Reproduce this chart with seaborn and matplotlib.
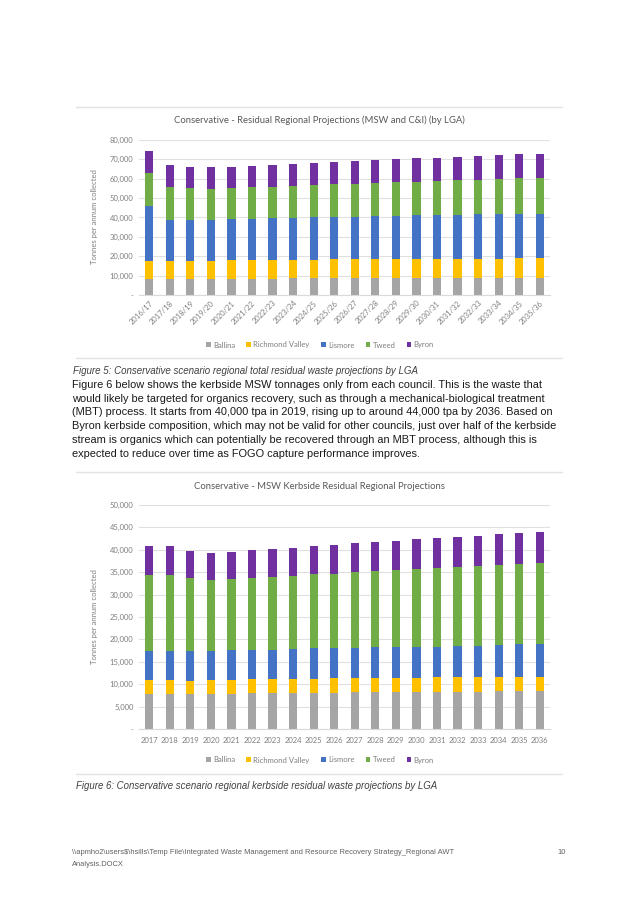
import matplotlib
matplotlib.use("Agg")
import matplotlib.pyplot as plt
from matplotlib.lines import Line2D
from matplotlib.patches import Patch
from matplotlib.ticker import FuncFormatter, MultipleLocator
import numpy as np
import pandas as pd
import seaborn as sns

# ---------------- data ----------------
lgas = ["Ballina", "Richmond Valley", "Lismore", "Tweed", "Byron"]
colors = ["#A5A5A5", "#FFC000", "#4472C4", "#70AD47", "#7030A0"]

fin_years = ["2016/17", "2017/18", "2018/19", "2019/20", "2020/21", "2021/22", "2022/23",
             "2023/24", "2024/25", "2025/26", "2026/27", "2027/28", "2028/29", "2029/30",
             "2030/31", "2031/32", "2032/33", "2033/34", "2034/35", "2035/36"]
total_ballina = [8300, 8300, 8300, 8300, 8400, 8500, 8500, 8600, 8700, 8700,
                 8800, 8800, 8800, 8900, 8900, 8900, 9000, 9000, 9000, 9000]
total_richmond = [9400, 9400, 9400, 9500, 9600, 9600, 9600, 9500, 9600, 9700,
                  9600, 9700, 9700, 9700, 9700, 9800, 9800, 9800, 9900, 9900]
total_lismore = [28300, 20900, 21200, 21100, 21200, 21300, 21700, 21800, 22000, 22000,
                 22000, 22300, 22300, 22500, 22500, 22800, 23000, 23000, 23100, 23100]
total_tweed = [17000, 17200, 16300, 15800, 16000, 16200, 16000, 16400, 16500, 16700,
               17100, 17000, 17400, 17400, 17800, 17700, 17800, 17900, 18200, 18200]
total_byron = [11200, 11200, 11100, 11200, 11100, 11000, 11300, 11300, 11400, 11600,
               11500, 11700, 11900, 12100, 12000, 12100, 12200, 12400, 12400, 12800]

years = ["2017", "2018", "2019", "2020", "2021", "2022", "2023", "2024", "2025", "2026",
         "2027", "2028", "2029", "2030", "2031", "2032", "2033", "2034", "2035", "2036"]
kerb_ballina = [7800, 7800, 7900, 7900, 7900, 8000, 8000, 8000, 8100, 8100,
                8200, 8200, 8200, 8300, 8300, 8300, 8300, 8400, 8400, 8400]
kerb_richmond = [3200, 3200, 2900, 3100, 3100, 3100, 3100, 3200, 3100, 3200,
                 3100, 3200, 3200, 3100, 3200, 3200, 3200, 3200, 3200, 3200]
kerb_lismore = [6400, 6400, 6600, 6400, 6600, 6600, 6600, 6600, 6800, 6700,
                6800, 6900, 6900, 7000, 6900, 7100, 7100, 7100, 7300, 7300]
kerb_tweed = [16900, 17000, 16400, 15800, 15900, 16100, 16200, 16400, 16500, 16700,
              16900, 16900, 17200, 17300, 17600, 17600, 17800, 18000, 18000, 18100]
kerb_byron = [6600, 6400, 6000, 6100, 6100, 6100, 6300, 6300, 6300, 6400,
              6500, 6500, 6500, 6600, 6600, 6700, 6700, 6800, 6900, 7000]

title1 = "Conservative - Residual Regional Projections (MSW and C&I) (by LGA)"
title2 = "Conservative - MSW Kerbside Residual Regional Projections"
ylabel = "Tonnes per annum collected"
cap5 = "Figure 5: Conservative scenario regional total residual waste projections by LGA"
cap6 = "Figure 6: Conservative scenario regional kerbside residual waste projections by LGA"
para = [
    "Figure 6 below shows the kerbside MSW tonnages only from each council. This is the waste that",
    "would likely be targeted for organics recovery, such as through a mechanical-biological treatment",
    "(MBT) process. It starts from 40,000 tpa in 2019, rising up to around 44,000 tpa by 2036. Based on",
    "Byron kerbside composition, which may not be valid for other councils, just over half of the kerbside",
    "stream is organics which can potentially be recovered through an MBT process, although this is",
    "expected to reduce over time as FOGO capture performance improves.",
]
footer1 = "\\\\apmho2\\users$\\hsills\\Temp File\\Integrated Waste Management and Resource Recovery Strategy_Regional AWT"
footer2 = "Analysis.DOCX"
page_no = "10"

# ---------------- layout helpers ----------------
W, H = 638, 900
fig = plt.figure(figsize=(W / 100, H / 100), dpi=100)
fig.patch.set_facecolor("white")
CH_FONT = ["Lato", "DejaVu Sans"]
DOC_FONT = ["Liberation Sans", "DejaVu Sans"]
TICK_C = "#7F7F7F"


def fx(x):
    return x / W


def fy(y):
    return 1 - y / H


def add_ax(x0, y0, x1, y1):
    return fig.add_axes([fx(x0), fy(y1), (x1 - x0) / W, (y1 - y0) / H])


def hline(y, x0=76, x1=562):
    fig.add_artist(Line2D([fx(x0), fx(x1)], [fy(y), fy(y)], color="#E3E3E3", lw=1.0,
                          transform=fig.transFigure))


def fmt(v, pos):
    return "-" if v == 0 else f"{int(v):,}"


def stacked(ax, cats, series, ymax, step):
    df = pd.DataFrame({"cat": cats})
    cum = np.cumsum(np.array(series, dtype=float), axis=0)
    for i in range(len(series) - 1, -1, -1):
        df["v"] = cum[i]
        sns.barplot(data=df, x="cat", y="v", color=colors[i], width=0.4, saturation=1,
                    ax=ax, linewidth=0, zorder=2)
    ax.set_ylim(0, ymax)
    ax.set_xlim(-0.5, len(cats) - 0.5)
    ax.yaxis.set_major_locator(MultipleLocator(step))
    ax.yaxis.set_major_formatter(FuncFormatter(fmt))
    ax.grid(axis="y", color="#E0E0E0", lw=0.8, zorder=0)
    ax.set_axisbelow(True)
    for s in ["top", "right", "left"]:
        ax.spines[s].set_visible(False)
    ax.spines["bottom"].set_color("#D9D9D9")
    ax.spines["bottom"].set_linewidth(0.8)
    ax.tick_params(axis="both", length=0, colors=TICK_C, labelsize=5.5, pad=4)
    for lab in ax.get_xticklabels() + ax.get_yticklabels():
        lab.set_family(CH_FONT)
    ax.set_xlabel("")
    ax.set_ylabel("")


def legend(yc):
    handles = [Patch(facecolor=c, edgecolor="none", label=l) for l, c in zip(lgas, colors)]
    fig.legend(handles=handles, loc="center", bbox_to_anchor=(fx(320), fy(yc)), ncol=5,
               frameon=False, handlelength=0.6, handleheight=0.6, handletextpad=0.3,
               columnspacing=1.5, prop={"family": CH_FONT, "size": 5.5}, labelcolor=TICK_C)


# ---------------- chart 1 ----------------
hline(107)
hline(358)
ax1 = add_ax(139, 140, 550, 295)
stacked(ax1, fin_years,
        [total_ballina, total_richmond, total_lismore, total_tweed, total_byron], 80000, 10000)
plt.setp(ax1.get_xticklabels(), rotation=45, ha="right", rotation_mode="anchor")
ax1.tick_params(axis="x", pad=3)
fig.text(fx(319), fy(120), title1, ha="center", va="center", family=CH_FONT, size=6.8,
         color="#595959")
fig.text(fx(95), fy(217), ylabel, ha="center", va="center", rotation=90, family=CH_FONT,
         size=5.5, color=TICK_C)
legend(345)

# ---------------- text ----------------
fig.text(fx(73), fy(371), cap5, ha="left", va="center", family=DOC_FONT, style="italic",
         size=7.0, color="#404040")
for i, line in enumerate(para):
    fig.text(fx(72), fy(385 + i * 13.7), line, ha="left", va="center", family=DOC_FONT,
             size=7.9, color="#1A1A1A")

# ---------------- chart 2 ----------------
hline(472)
hline(774)
ax2 = add_ax(139, 505, 550, 729)
stacked(ax2, years, [kerb_ballina, kerb_richmond, kerb_lismore, kerb_tweed, kerb_byron],
        50000, 5000)
ax2.tick_params(axis="x", pad=6)
fig.text(fx(319), fy(486), title2, ha="center", va="center", family=CH_FONT, size=6.8,
         color="#595959")
fig.text(fx(95), fy(617), ylabel, ha="center", va="center", rotation=90, family=CH_FONT,
         size=5.5, color=TICK_C)
legend(760)

fig.text(fx(76), fy(786), cap6, ha="left", va="center", family=DOC_FONT, style="italic",
         size=6.9, color="#404040")

# ---------------- footer ----------------
fig.text(fx(72), fy(853), footer1, ha="left", va="center", family=DOC_FONT, size=5.4,
         color="#606060")
fig.text(fx(72), fy(865), footer2, ha="left", va="center", family=DOC_FONT, size=5.4,
         color="#606060")
fig.text(fx(566), fy(853), page_no, ha="right", va="center", family=DOC_FONT, size=5.4,
         color="#606060")

fig.savefig("out.png", dpi=100, facecolor="white")
